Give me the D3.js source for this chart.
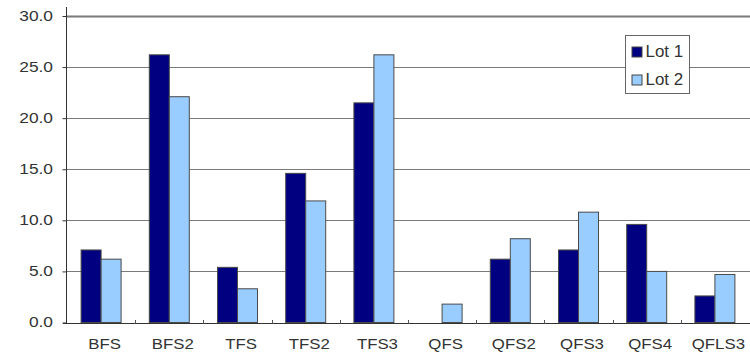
<!DOCTYPE html>
<html>
<head>
<meta charset="utf-8">
<script src="https://cdn.jsdelivr.net/npm/d3@7"></script>
<style>
  html, body { margin: 0; padding: 0; background: #fff; }
  svg { display: block; font-family: "Liberation Sans", Arial, sans-serif; }
</style>
</head>
<body>
<svg id="chart" width="750" height="355"></svg>
<script>
// Categories and the two lots
const categories = ["BFS", "BFS2", "TFS", "TFS2", "TFS3", "QFS", "QFS2", "QFS3", "QFS4", "QFLS3"];
const seriesNames = ["Lot 1", "Lot 2"];
const lot1 = [7.1, 26.2, 5.4, 14.6, 21.5, 0, 6.2, 7.1, 9.6, 2.6];
const lot2 = [6.2, 22.1, 3.3, 11.9, 26.2, 1.8, 8.2, 10.8, 5.0, 4.7];
const yTicks = [0, 5, 10, 15, 20, 25, 30];
const colors = ["#000080", "#99ccff"];

// the chart's text is drawn slightly wide
const stretch = 1.2;

const svg = d3.select("#chart");
const plot = { left: 67, right: 749, top: 16, bottom: 322.5 };

const x0 = d3.scaleBand().domain(categories).range([plot.left, plot.right]).padding(0);
const bw = x0.bandwidth();
const x1 = d3.scaleBand().domain(seriesNames).range([bw / 2 - 20, bw / 2 + 20]).padding(0);
const y = d3.scaleLinear().domain([0, 30]).range([plot.bottom, plot.top]);

// Horizontal gridlines
svg.append("g")
  .selectAll("line")
  .data(yTicks.filter(d => d > 0))
  .join("line")
  .attr("x1", plot.left)
  .attr("x2", 750)
  .attr("y1", d => Math.round(y(d)) + 0.5)
  .attr("y2", d => Math.round(y(d)) + 0.5)
  .attr("stroke", "#7a7a7a")
  .attr("stroke-width", d => d === 30 ? 2 : 1);

// Bars
const rows = categories.map((c, i) => ({ cat: c, vals: [lot1[i], lot2[i]] }));
svg.append("g")
  .selectAll("g")
  .data(rows)
  .join("g")
  .attr("transform", d => `translate(${x0(d.cat)},0)`)
  .selectAll("rect")
  .data(d => d.vals.map((v, j) => ({ key: seriesNames[j], v, j })).filter(e => e.v > 0))
  .join("rect")
  .attr("x", d => x1(d.key))
  .attr("width", x1.bandwidth())
  .attr("y", d => y(d.v))
  .attr("height", d => y(0) - y(d.v))
  .attr("fill", d => colors[d.j])
  .attr("stroke", "#4a4a4a")
  .attr("stroke-width", 1);

// Y axis
const yAxis = d3.axisLeft(y)
  .tickValues(yTicks)
  .tickSize(4)
  .tickPadding(10)
  .tickFormat(d3.format(".1f"));
const gy = svg.append("g")
  .attr("transform", `translate(${plot.left - 0.5},0)`)
  .call(yAxis);
gy.select(".domain").remove();
gy.append("line")
  .attr("y1", 7).attr("y2", plot.bottom + 0.5)
  .attr("stroke", "#333").attr("stroke-width", 1);
gy.selectAll(".tick line").attr("stroke", "#333");
gy.selectAll(".tick text")
  .attr("font-size", 14)
  .attr("fill", "#333")
  .attr("font-family", "Liberation Sans, Arial, sans-serif")
  .attr("x", -13.5 / 1.24)
  .attr("transform", "scale(1.24,1)");

// X axis with small upward ticks at category boundaries
const gx = svg.append("g");
gx.append("line")
  .attr("x1", plot.left - 4).attr("x2", 750)
  .attr("y1", Math.round(y(0)) + 0.5).attr("y2", Math.round(y(0)) + 0.5)
  .attr("stroke", "#333");
gx.selectAll("line.tk")
  .data(categories.slice(1))
  .join("line")
  .attr("class", "tk")
  .attr("x1", d => Math.round(x0(d)) + 0.5)
  .attr("x2", d => Math.round(x0(d)) + 0.5)
  .attr("y1", Math.round(y(0)) - 3)
  .attr("y2", Math.round(y(0)) + 0.5)
  .attr("stroke", "#555");
gx.selectAll("text")
  .data(categories)
  .join("text")
  .attr("transform", d => `translate(${x0(d) + bw / 2 + 3.5},349) scale(${stretch},1)`)
  .attr("text-anchor", "middle")
  .attr("font-size", 14)
  .attr("fill", "#333")
  .text(d => d);

// Legend
const lg = svg.append("g");
lg.append("rect")
  .attr("x", 625.5).attr("y", 35.5)
  .attr("width", 64).attr("height", 58)
  .attr("fill", "#fff").attr("stroke", "#666");
seriesNames.forEach((name, i) => {
  const yy = 47 + i * 28;
  lg.append("rect")
    .attr("x", 632).attr("y", yy)
    .attr("width", 10).attr("height", 10)
    .attr("fill", colors[i]).attr("stroke", "#444");
  lg.append("text")
    .attr("transform", `translate(645.5,${yy + 9.5}) scale(1.06,1)`)
    .attr("font-size", 16)
    .attr("fill", "#333")
    .text(name);
});
</script>
</body>
</html>
